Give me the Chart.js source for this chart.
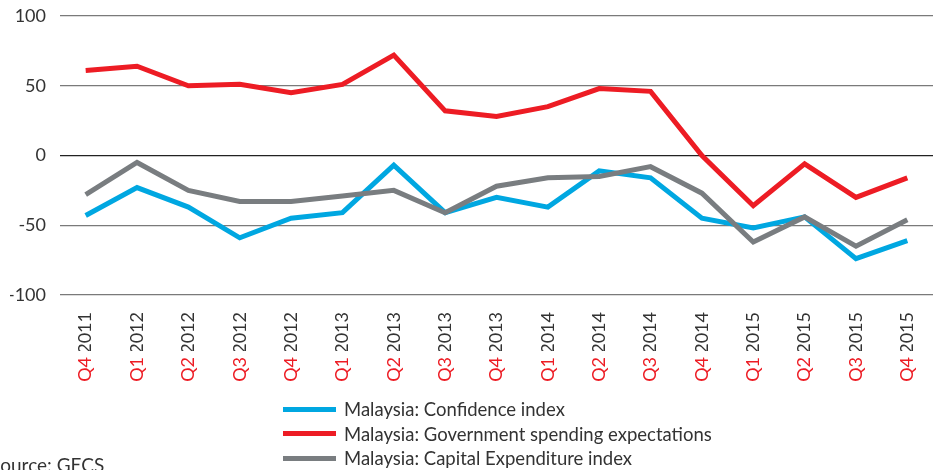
<!DOCTYPE html>
<html>
<head>
<meta charset="utf-8">
<script src="https://cdn.jsdelivr.net/npm/chart.js@4.4.0/dist/chart.umd.min.js"></script>
<style>
    html, body {
        margin: 0;
        padding: 0;
        background: #fff;
        overflow: hidden;
    }
    .wrap {
        position: relative;
        width: 941px;
        height: 470px;
        overflow: hidden;
        font-family: Lato, "Noto Sans", sans-serif;
        color: #333;
    }
    .legend {
        position: absolute;
        left: 283px;
        top: 397px;
        font-size: 18.5px;
    }
    .legend_Row {
        display: flex;
        align-items: center;
        height: 24.5px;
    }
    .legend_Swatch {
        width: 53px;
        height: 5px;
        margin-right: 8px;
    }
    .source {
        position: absolute;
        left: -10px;
        top: 453px;
        font-size: 19px;
        white-space: nowrap;
    }
</style>
</head>
<body>
<div class="wrap">
    <canvas id="chart" width="941" height="470"></canvas>
    <div class="legend" id="legend"></div>
    <div class="source">Source: GECS</div>
</div>
<script>
const categories = [
    "Q4 2011", "Q1 2012", "Q2 2012", "Q3 2012", "Q4 2012",
    "Q1 2013", "Q2 2013", "Q3 2013", "Q4 2013",
    "Q1 2014", "Q2 2014", "Q3 2014", "Q4 2014",
    "Q1 2015", "Q2 2015", "Q3 2015", "Q4 2015",
];
const confidenceIndex = [-43, -23, -37, -59, -45, -41, -7, -41, -30, -37, -11, -16, -45, -52, -44, -74, -61];
const govSpending = [61, 64, 50, 51, 45, 51, 72, 32, 28, 35, 48, 46, 0, -36, -6, -30, -16];
const capexIndex = [-28, -5, -25, -33, -33, -29, -25, -41, -22, -16, -15, -8, -27, -62, -44, -65, -46];
const yTicks = [-100, -50, 0, 50, 100];

// split "Q4 2011" into its two coloured parts
const quarterLabels = categories.map((c) => c.split(" ")[0]);
const yearLabels = categories.map((c) => c.split(" ")[1]);

const seriesList = [
    { label: "Malaysia: Confidence index", data: confidenceIndex, colour: "#00a7e1", order: 2 },
    { label: "Malaysia: Government spending expectations", data: govSpending, colour: "#ed1c24", order: 0 },
    { label: "Malaysia: Capital Expenditure index", data: capexIndex, colour: "#797d80", order: 1 },
];

const tickFont = { family: "Lato", size: 18 };

// fixed band heights so the year and quarter halves sit one space apart
const fitBand = (height) => (axis) => {
    axis.height = height;
    axis.paddingLeft = 0;
    axis.paddingRight = 0;
};

const chart = new Chart(document.getElementById("chart"), {
    type: "line",
    data: {
        labels: yearLabels,
        datasets: seriesList.map((s) => {
            return {
                label: s.label,
                data: s.data,
                borderColor: s.colour,
                backgroundColor: s.colour,
                order: s.order,
            };
        }),
    },
    options: {
        responsive: false,
        animation: false,
        layout: {
            padding: { top: 16, right: 8, bottom: 88, left: 10 },
        },
        elements: {
            line: {
                borderWidth: 5,
                tension: 0,
            },
            point: {
                radius: 0,
            },
        },
        plugins: {
            legend: { display: false },
            tooltip: { enabled: false },
        },
        scales: {
            x: {
                type: "category",
                offset: true,
                weight: 0,
                grid: { display: false, drawTicks: false },
                border: { display: false },
                afterFit: fitBand(56),
                ticks: {
                    color: "#333",
                    font: tickFont,
                    minRotation: 90,
                    maxRotation: 90,
                    padding: 17,
                    autoSkip: false,
                },
            },
            x2: {
                type: "category",
                position: "bottom",
                labels: quarterLabels,
                offset: true,
                weight: 1,
                grid: { display: false, drawTicks: false },
                border: { display: false },
                afterFit: fitBand(31),
                ticks: {
                    color: "#ed1c24",
                    font: tickFont,
                    minRotation: 90,
                    maxRotation: 90,
                    padding: 6,
                    autoSkip: false,
                },
            },
            y: {
                min: -100,
                max: 100,
                afterBuildTicks: (axis) => {
                    axis.ticks = yTicks.map((v) => ({ value: v }));
                },
                afterFit: (axis) => {
                    axis.width = 50;
                    axis.paddingTop = 0;
                    axis.paddingBottom = 0;
                },
                border: { display: false },
                grid: {
                    drawTicks: false,
                    lineWidth: 1.3,
                    color: (ctx) => (ctx.tick && ctx.tick.value === 0 ? "#222" : "#7a7a7a"),
                },
                ticks: {
                    color: "#333",
                    font: { family: "Lato", size: 18 },
                    padding: 14,
                },
            },
        },
    },
});

// legend below the chart, one row per series
const legendEl = document.getElementById("legend");
seriesList.forEach((s) => {
    const row = document.createElement("div");
    row.classList.add("legend_Row");
    const swatch = document.createElement("span");
    swatch.classList.add("legend_Swatch");
    swatch.style.background = s.colour;
    const text = document.createElement("span");
    text.textContent = s.label;
    row.appendChild(swatch);
    row.appendChild(text);
    legendEl.appendChild(row);
});
</script>
</body>
</html>
